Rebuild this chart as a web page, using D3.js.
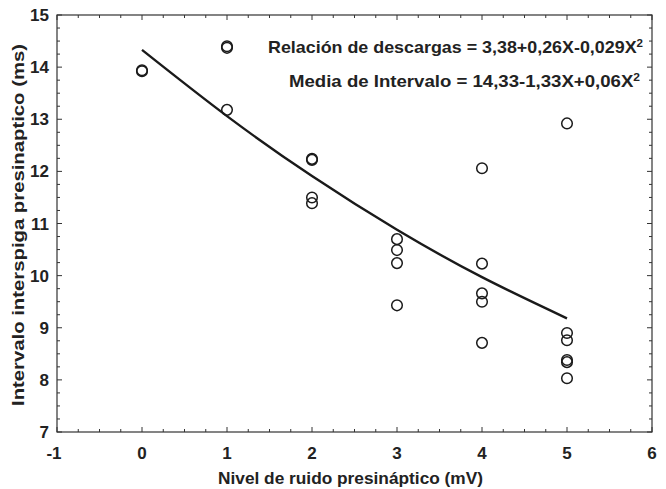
<!DOCTYPE html>
<html>
<head>
<meta charset="utf-8">
<script src="https://cdn.jsdelivr.net/npm/d3@7"></script>
<style>
  body { margin: 0; background: #fff; }
  text { font-family: "Liberation Sans", Arial, sans-serif; font-weight: bold; fill: #222; }
</style>
</head>
<body>
<svg id="chart" width="666" height="489"></svg>
<script>
// Data
const noiseLevel = [0, 0, 1, 1, 1, 2, 2, 2, 2, 3, 3, 3, 3, 4, 4, 4, 4, 4, 5, 5, 5, 5, 5, 5];
const intervalMs = [13.94, 13.92, 14.40, 14.37, 13.18, 12.24, 12.22, 11.50, 11.39,
                    10.70, 10.49, 10.24, 9.43, 12.06, 10.23, 9.66, 9.50, 8.71,
                    12.92, 8.90, 8.76, 8.38, 8.34, 8.03];
// fitted curve (Media de Intervalo) at X = 0..5
const fitX = [0, 1, 2, 3, 4, 5];
const fitY = [14.33, 13.06, 11.91, 10.88, 9.97, 9.18];
const xTicks = [-1, 0, 1, 2, 3, 4, 5, 6];
const yTicks = [7, 8, 9, 10, 11, 12, 13, 14, 15];
const notes = [
  {label: "Relación de descargas = 3,38+0,26X-0,029X", sup: "2"},
  {label: "Media de Intervalo = 14,33-1,33X+0,06X", sup: "2"}
];

const svg = d3.select("#chart");
const m = {left: 57, right: 652, top: 15, bottom: 432};

const x = d3.scaleLinear().domain([-1, 6]).range([m.left, m.right]);
const y = d3.scaleLinear().domain([7, 15]).range([m.bottom, m.top]);

// Frame
svg.append("rect")
    .attr("x", m.left).attr("y", m.top)
    .attr("width", m.right - m.left).attr("height", m.bottom - m.top)
    .attr("fill", "none").attr("stroke", "#333").attr("stroke-width", 1.2);

// Ticks on all four sides, pointing inward
const xMinor = d3.range(-1, 6.001, 0.25);
const yMinor = d3.range(7, 15.001, 0.25);
const isMajor = v => Math.abs(v - Math.round(v)) < 1e-6;
const tickG = svg.append("g").attr("stroke", "#333").attr("stroke-width", 1);
xMinor.forEach(v => {
  let len = isMajor(v) ? 5 : 3;
  tickG.append("line").attr("x1", x(v)).attr("x2", x(v)).attr("y1", m.bottom).attr("y2", m.bottom - len);
  tickG.append("line").attr("x1", x(v)).attr("x2", x(v)).attr("y1", m.top).attr("y2", m.top + len);
});
yMinor.forEach(v => {
  let len = isMajor(v) ? 5 : 3;
  tickG.append("line").attr("y1", y(v)).attr("y2", y(v)).attr("x1", m.left).attr("x2", m.left + len);
  tickG.append("line").attr("y1", y(v)).attr("y2", y(v)).attr("x1", m.right).attr("x2", m.right - len);
});

// Tick labels
svg.selectAll(".xl").data(xTicks).enter().append("text")
    .attr("x", d => x(d) - (d < 0 ? 3 : 0)).attr("y", 459)
    .attr("text-anchor", "middle").attr("font-size", 17)
    .text(d => d);
svg.selectAll(".yl").data(yTicks).enter().append("text")
    .attr("x", 49).attr("y", d => y(d) + 6)
    .attr("text-anchor", "end").attr("font-size", 17)
    .text(d => d);

// Axis titles
svg.append("text")
    .attr("x", 218).attr("y", 484)
    .attr("font-size", 16.5)
    .attr("textLength", 265).attr("lengthAdjust", "spacingAndGlyphs")
    .text("Nivel de ruido presináptico (mV)");
svg.append("text")
    .attr("transform", "translate(24,406) rotate(-90)")
    .attr("font-size", 16.5)
    .attr("textLength", 362).attr("lengthAdjust", "spacingAndGlyphs")
    .text("Intervalo interspiga presinaptico (ms)");

// Fitted curve
const line = d3.line().x((d, i) => x(fitX[i])).y(d => y(d)).curve(d3.curveNatural);
svg.append("path")
    .attr("d", line(fitY))
    .attr("fill", "none").attr("stroke", "#1a1a1a").attr("stroke-width", 2.4);

// Scatter points
svg.selectAll(".pt").data(intervalMs).enter().append("circle")
    .attr("cx", (d, i) => x(noiseLevel[i]))
    .attr("cy", d => y(d))
    .attr("r", 5.3)
    .attr("fill", "none").attr("stroke", "#1a1a1a").attr("stroke-width", 1.5);

// Equations
const noteX = [268, 289], noteW = [375, 351];
notes.forEach((n, i) => {
  let t = svg.append("text")
      .attr("x", noteX[i]).attr("y", 53 + i * 34)
      .attr("font-size", 17)
      .attr("textLength", noteW[i]).attr("lengthAdjust", "spacingAndGlyphs");
  t.append("tspan").text(n.label);
  t.append("tspan").attr("dy", -6).attr("font-size", 11).text(n.sup);
});
</script>
</body>
</html>
